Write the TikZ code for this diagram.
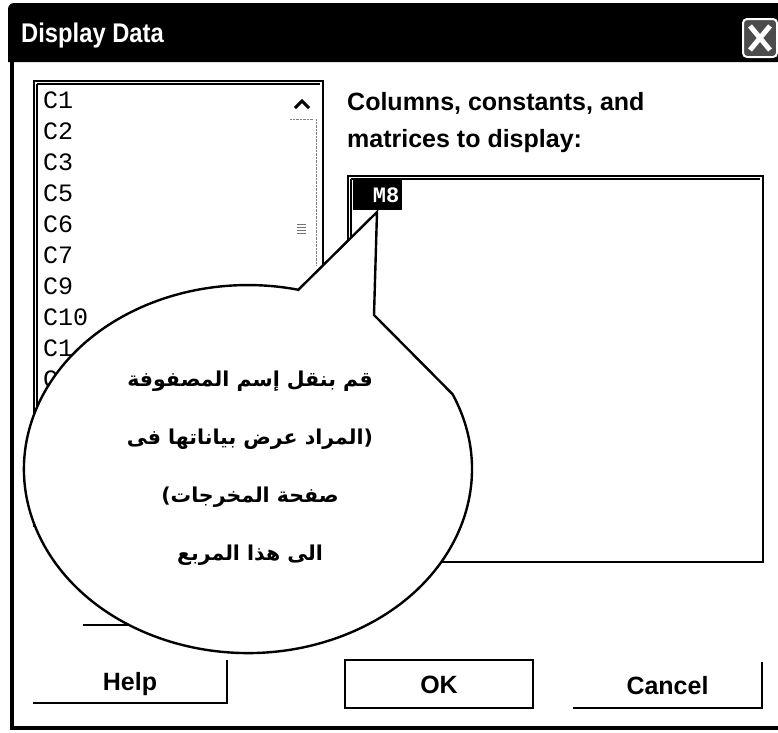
\documentclass[tikz,border=0pt]{standalone}
\usepackage{fontspec}
\setmainfont{Liberation Sans}
\newfontfamily\listfont{Liberation Mono}
\newfontfamily\arabicfont[Script=Arabic]{DejaVu Sans}
\TeXXeTstate=1
\usetikzlibrary{calc}

\begin{document}
\begin{tikzpicture}[x=1pt,y=-1pt,
  uitext/.style={font=\fontsize{25}{30}\selectfont\bfseries, inner sep=0pt},
  itemtext/.style={font=\listfont\fontsize{25}{30}\selectfont, inner sep=0pt, anchor=base west},
  listbox/.style={draw=black, line width=2pt, anchor=north west, inner sep=0pt},
  btn/.style={font=\fontsize{25}{30}\selectfont\bfseries, inner sep=0pt, text height=18pt, text depth=0pt},
  edge/.style={line width=2pt},
  thinedge/.style={line width=1.2pt},
  bubble/.style={fill=white, draw=black, line width=2.4pt, line join=miter},
  bubbletext/.style={font=\arabicfont\bfseries\fontsize{20.5}{58}\selectfont, align=center, inner sep=0pt}
]
\useasboundingbox[fill=white] (0,0) rectangle (778,732);

% window frame and title bar
\fill[black] (8,62) [rounded corners=6pt] -- (8,3) [sharp corners] -- (778,3) -- (778,62) -- cycle;
\draw[line width=4pt] (12,60) -- (12,728) -- (778,728);
\node[font=\fontsize{27}{30}\selectfont\bfseries, text=white, inner sep=0pt, anchor=base west]
  (title) at (21,42) {\scalebox{0.88}[1]{Display Data}};
\node[draw=white, line width=2pt, fill=black!70, rounded corners=4pt,
  minimum width=34pt, minimum height=38pt, inner sep=0pt] (close) at (760,38) {};
\draw[white, line width=5pt] ($(close.north west)+(8,8)$) -- ($(close.south east)+(-8,-8)$);
\draw[white, line width=5pt] ($(close.north east)+(-8,8)$) -- ($(close.south west)+(8,-8)$);

% source list
\node[listbox, minimum width=289pt, minimum height=445pt] (srclist) at (33,80) {};
\draw[thinedge] ($(srclist.north west)+(4,4)$) -- ($(srclist.north east)+(-4,4)$);
\draw[thinedge] ($(srclist.north west)+(4,4)$) -- ($(srclist.south west)+(4,-4)$);
\foreach \t [count=\i] in {C1,C2,C3,C5,C6,C7,C9,C10,C1,C}
  \node[itemtext] (item\i) at (43,{108+31*(\i-1)}) {\t};
\draw[line width=3pt] (295,108) -- (302,101) -- (309,108);
\draw[black!50, densely dotted] (290,119) -- (313,119);
\draw[black!50, densely dotted] (316,119) -- (316,265);
\foreach \k in {0,3,6,9}
  \draw[black!55, line width=0.8pt] (297,{224+\k}) -- (306,{224+\k});

% destination list
\node[uitext, anchor=base west] (lbl1) at (347,110) {Columns, constants, and};
\node[uitext, anchor=base west] (lbl2) at (347,147) {matrices to display:};
\node[listbox, minimum width=415pt, minimum height=386pt] (dstlist) at (347,175) {};
\draw[thinedge] ($(dstlist.north west)+(4,4)$) -- ($(dstlist.north east)+(-4,4)$);
\draw[thinedge] ($(dstlist.north west)+(4,4)$) -- ($(dstlist.south west)+(4,-4)$);
\node[fill=black, minimum width=49pt, minimum height=30pt, inner sep=0pt, anchor=north west] (m8) at (353,180) {};
\node[font=\listfont\bfseries\fontsize{22}{26}\selectfont, text=white, inner sep=0pt, anchor=east]
  (m8text) at ($(m8.east)+(-3,0)$) {M8};

% buttons
\draw[thinedge] (83,625) -- (200,625);
\node[btn, minimum width=194pt, minimum height=43pt] (helpbtn) at (130,681.5) {Help};
\draw[edge] (helpbtn.south west) -- (helpbtn.south east) -- (helpbtn.north east);
\node[btn, draw=black, line width=2pt, minimum width=188pt, minimum height=48pt] (okbtn) at (439,684) {OK};
\node[btn, minimum width=189pt, minimum height=46pt] (cancelbtn) at (667.5,685) {Cancel};
\draw[edge] (cancelbtn.south west) -- (cancelbtn.south east) -- (cancelbtn.north east);

% callout bubble
\coordinate (jl) at (298.4,289.7);
\coordinate (tip) at (377,212);
\coordinate (bend) at (374,315);
\coordinate (jr) at (452.6,394.2);
\draw[bubble] (jl) -- (tip) -- (bend) -- (jr)
  arc[start angle=-24, end angle=283, x radius=224, y radius=184] -- cycle;
\node[bubbletext] (note) at (250,468) {%
  \beginR قم بنقل إسم المصفوفة\endR\\
  \beginR (المراد عرض بياناتها فى\endR\\
  \beginR صفحة المخرجات)\endR\\
  \beginR الى هذا المربع\endR};
\end{tikzpicture}
\end{document}
